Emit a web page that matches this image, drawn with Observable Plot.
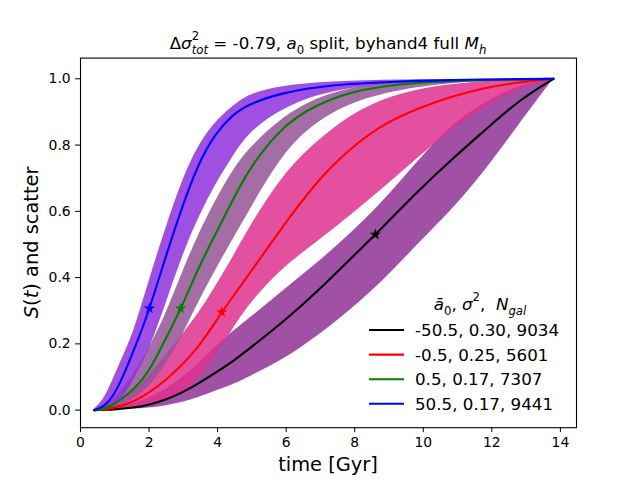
<!DOCTYPE html>
<html>
<head>
<meta charset="utf-8">
<script src="https://cdn.jsdelivr.net/npm/d3@7"></script>
<script src="https://cdn.jsdelivr.net/npm/@observablehq/plot@0.6"></script>
<style>
  body { margin: 0; background: white; }
  #chart { width: 640px; height: 480px; }
</style>
</head>
<body>
<div id="chart"></div>
<script>
// ---- data ----
const times = [0.4, 0.69, 0.98, 1.28, 1.57, 1.97, 2.46, 2.95, 3.44, 3.93, 4.42, 4.92, 5.9, 6.88, 7.86, 8.85, 9.83, 10.81, 11.8, 12.78, 13.8];

const seriesLabels = ["-50.5, 0.30, 9034", "-0.5, 0.25, 5601", "0.5, 0.17, 7307", "50.5, 0.17, 9441"];
const lineColors = ["#000000", "#ff0000", "#008000", "#0000ff"];
const bandColors = ["#8f3195", "#df318f", "#955495", "#8f31dc"];

const blackMid = [0, 0.001, 0.002, 0.005, 0.008, 0.015, 0.03, 0.052, 0.08, 0.112, 0.145, 0.185, 0.265, 0.355, 0.455, 0.555, 0.66, 0.755, 0.845, 0.935, 1];
const blackHi  = [0, 0.002, 0.006, 0.012, 0.02, 0.035, 0.06, 0.095, 0.14, 0.19, 0.235, 0.275, 0.36, 0.44, 0.53, 0.63, 0.75, 0.86, 0.93, 0.98, 1];
const blackLo  = [0, 0, 0.001, 0.002, 0.003, 0.006, 0.012, 0.022, 0.037, 0.057, 0.075, 0.1, 0.15, 0.22, 0.30, 0.39, 0.50, 0.60, 0.72, 0.86, 1];

const redMid = [0, 0.002, 0.008, 0.016, 0.027, 0.05, 0.088, 0.135, 0.19, 0.265, 0.34, 0.41, 0.555, 0.69, 0.79, 0.865, 0.91, 0.947, 0.973, 0.99, 1];
const redHi  = [0.002, 0.006, 0.018, 0.035, 0.06, 0.1, 0.16, 0.225, 0.29, 0.37, 0.455, 0.55, 0.71, 0.81, 0.89, 0.94, 0.968, 0.983, 0.993, 0.998, 1];
const redLo  = [0, 0, 0.002, 0.005, 0.01, 0.018, 0.03, 0.047, 0.09, 0.16, 0.24, 0.32, 0.43, 0.505, 0.585, 0.67, 0.76, 0.845, 0.915, 0.97, 1];

const greenMid = [0, 0.004, 0.018, 0.04, 0.065, 0.11, 0.21, 0.31, 0.43, 0.53, 0.63, 0.73, 0.86, 0.922, 0.96, 0.978, 0.988, 0.993, 0.996, 0.998, 1];
const greenHi  = [0.002, 0.01, 0.035, 0.07, 0.11, 0.18, 0.28, 0.41, 0.53, 0.63, 0.72, 0.79, 0.885, 0.942, 0.972, 0.986, 0.993, 0.996, 0.998, 0.999, 1];
const greenLo  = [0, 0.002, 0.008, 0.018, 0.035, 0.065, 0.13, 0.22, 0.325, 0.42, 0.51, 0.60, 0.775, 0.87, 0.925, 0.955, 0.974, 0.986, 0.993, 0.998, 1];

const blueMid = [0, 0.01, 0.045, 0.11, 0.185, 0.29, 0.455, 0.61, 0.745, 0.835, 0.89, 0.925, 0.958, 0.975, 0.985, 0.99, 0.994, 0.996, 0.998, 0.999, 1];
const blueHi  = [0.003, 0.03, 0.1, 0.17, 0.24, 0.38, 0.54, 0.69, 0.80, 0.87, 0.915, 0.955, 0.978, 0.988, 0.993, 0.996, 0.997, 0.998, 0.999, 1, 1];
const blueLo  = [0, 0.002, 0.012, 0.04, 0.095, 0.17, 0.31, 0.46, 0.58, 0.68, 0.76, 0.84, 0.91, 0.95, 0.972, 0.983, 0.99, 0.994, 0.997, 0.999, 1];

const starT = [8.6, 4.12, 2.92, 2.01];
const starS = [0.53, 0.296, 0.307, 0.307];

const xTicks = [0, 2, 4, 6, 8, 10, 12, 14];
const yTicks = [0, 0.2, 0.4, 0.6, 0.8, 1.0];

// ---- tables ----
const mids = [blackMid, redMid, greenMid, blueMid];
const his = [blackHi, redHi, greenHi, blueHi];
const los = [blackLo, redLo, greenLo, blueLo];
const rowsBy = mids.map((m, k) => times.map((t, j) => ({k, t, mid: m[j], hi: his[k][j], lo: los[k][j]})));
const stars = starT.map((t, k) => ({k, t, s: starS[k]}));

const marks = [];
rowsBy.forEach((rows, k) => {
  marks.push(Plot.areaY(rows, {x: "t", y1: "lo", y2: "hi", fill: bandColors[k], fillOpacity: 0.85, curve: "basis"}));
});
rowsBy.forEach((rows, k) => {
  marks.push(Plot.line(rows, {x: "t", y: "mid", stroke: lineColors[k], strokeWidth: 2.1, curve: "basis"}));
});
marks.push(Plot.dot(stars, {x: "t", y: "s", symbol: "star", r: 3.6, fill: d => lineColors[d.k], stroke: "none"}));
marks.push(Plot.axisX({ticks: xTicks, tickSize: 4.9, tickPadding: 4.9, tickFormat: d => String(d), label: null}));
marks.push(Plot.axisY({ticks: yTicks, tickSize: 4.9, tickPadding: 4.9, tickFormat: d3.format(".1f"), label: null}));
marks.push(Plot.frame({stroke: "black", strokeWidth: 1.1}));

const svg = Plot.plot({
  width: 640, height: 480,
  marginLeft: 80, marginRight: 64, marginTop: 57.6, marginBottom: 52.8,
  x: {domain: [0, 14.47]},
  y: {domain: [-0.053, 1.0625]},
  style: {fontFamily: "'DejaVu Sans', sans-serif", fontSize: "13.9px", background: "white", color: "black"},
  marks
});
document.getElementById("chart").appendChild(svg);

// ---- text decorations ----
function rich(sel, parts, fs) {
  let off = 0;
  parts.forEach(p => {
    const target = p.sup ? -0.52 * fs : p.sub ? 0.3 * fs : 0;
    const ts = sel.append("tspan").text(p.t);
    const dy = target - off;
    if (dy) ts.attr("dy", dy);
    off = target;
    if (p.sup || p.sub) ts.attr("font-size", fs * 0.7);
    if (p.i) ts.attr("font-style", "italic");
    if (p.dx) ts.attr("dx", p.dx);
  });
}
const S = d3.select(svg);
const ff = "'DejaVu Sans', sans-serif";

// title
const tfs = 16.7;
const title = S.append("text").attr("x", 328).attr("y", 49).attr("text-anchor", "middle")
  .attr("font-family", ff).attr("font-size", tfs).attr("fill", "black").style("white-space", "pre");
rich(title, [
  {t: "Δ"}, {t: "σ", i: 1}, {t: "2", sup: 1}, {t: "tot", sub: 1, i: 1, dx: -tfs * 0.7 * 0.636},
  {t: " = -0.79, "}, {t: "a", i: 1}, {t: "0", sub: 1}, {t: " split, byhand4 full "},
  {t: "M", i: 1}, {t: "h", sub: 1, i: 1}
], tfs);

// axis labels
const lfs = 19.4;
const yl = S.append("text").attr("transform", "translate(38,242.4) rotate(-90)").attr("text-anchor", "middle")
  .attr("font-family", ff).attr("font-size", lfs).attr("fill", "black").style("white-space", "pre");
rich(yl, [{t: "S", i: 1}, {t: "("}, {t: "t", i: 1}, {t: ") and scatter"}], lfs);
S.append("text").attr("x", 328).attr("y", 471).attr("text-anchor", "middle")
  .attr("font-family", ff).attr("font-size", lfs).attr("fill", "black").text("time [Gyr]");

// legend
const gfs = 16.7;
const lt = S.append("text").attr("x", 480).attr("y", 310).attr("text-anchor", "middle")
  .attr("font-family", ff).attr("font-size", gfs).attr("fill", "black").style("white-space", "pre");
rich(lt, [{t: "ā", i: 1}, {t: "0", sub: 1}, {t: ", "}, {t: "σ", i: 1}, {t: "2", sup: 1}, {t: ",  "},
  {t: "N", i: 1}, {t: "gal", sub: 1, i: 1}], gfs);
seriesLabels.forEach((lab, k) => {
  const y = 330 + 24.6 * k;
  S.append("line").attr("x1", 369).attr("x2", 404).attr("y1", y).attr("y2", y)
    .attr("stroke", lineColors[k]).attr("stroke-width", 2.1);
  S.append("text").attr("x", 415).attr("y", y + 5.9).attr("text-anchor", "start")
    .attr("font-family", ff).attr("font-size", gfs).attr("fill", "black").text(lab);
});
</script>
</body>
</html>
